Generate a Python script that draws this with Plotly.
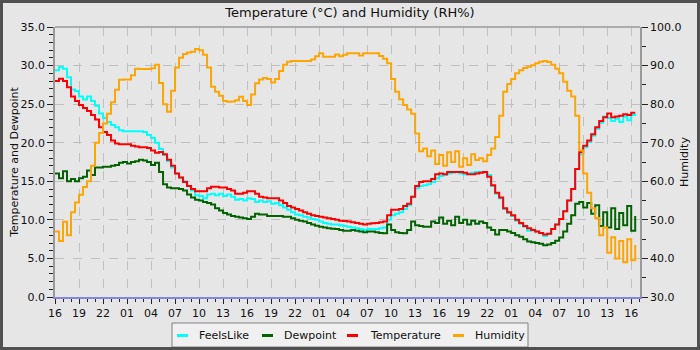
import pandas as pd
import plotly.graph_objects as go

# ---------------- data (half-hourly readings, starting 16:00) ----------------
start_time = "2024-05-01 16:00"
n_points = 146
times = pd.date_range(start_time, periods=n_points, freq="30min")

feels_like = [
    29.4, 29.8, 29.6, 28.5, 26.9, 26.7, 26.0, 25.6, 26.0, 25.4, 24.8, 23.8,
    23.2, 22.7, 22.3, 22.0, 21.6, 21.5, 21.5, 21.5, 21.5, 21.5, 21.4, 21.0,
    20.6, 20.0, 19.2, 18.4, 17.6, 16.8, 16.0, 15.5, 15.0, 14.4, 13.8, 13.2,
    13.1, 12.8, 13.3, 13.4, 13.2, 13.4, 13.1, 13.3, 13.0, 12.6, 12.7, 12.5,
    12.8, 12.7, 12.3, 12.5, 12.3, 12.4, 12.1, 12.2, 11.9, 11.6, 11.3, 11.0,
    10.7, 10.6, 10.4, 10.3, 10.1, 10.0, 9.8, 9.6, 9.5, 9.4, 9.4, 9.3,
    9.2, 9.1, 9.0, 8.9, 8.8, 8.7, 8.8, 8.8, 8.8, 8.9, 9.0, 10.0,
    10.6, 10.8, 11.0, 11.4, 11.9, 13.0, 14.1, 14.4, 14.5, 14.6, 14.9, 15.4,
    15.7, 15.8, 16.0, 16.1, 16.2, 16.0, 15.9, 16.0, 16.1, 16.2, 16.2, 16.2,
    15.8, 14.4, 13.4, 12.8, 11.4, 10.9, 10.5, 9.9, 9.5, 9.1, 8.6, 8.7,
    8.5, 8.3, 7.9, 8.2, 8.8, 9.4, 10.1, 11.1, 12.5, 14.0, 16.6, 18.5,
    19.4, 20.1, 20.9, 21.8, 22.6, 23.4, 23.2, 22.8, 23.1, 22.7, 23.4, 22.9,
    23.6, 23.8,
]

dewpoint = [
    16.0, 15.4, 16.3, 15.0, 15.3, 15.0, 15.4, 15.6, 16.4, 15.8, 16.8, 16.8,
    16.9, 16.9, 17.0, 17.1, 17.4, 17.5, 17.3, 17.5, 17.6, 17.8, 17.7, 17.5,
    17.1, 17.4, 16.2, 14.6, 14.2, 14.1, 14.1, 14.0, 13.8, 13.3, 12.9, 12.6,
    12.5, 12.3, 12.2, 12.0, 11.5, 11.2, 10.9, 10.7, 10.5, 10.4, 10.3, 10.2,
    10.1, 10.4, 10.8, 10.7, 10.7, 10.5, 10.5, 10.5, 10.5, 10.4, 10.4, 10.2,
    10.0, 9.9, 9.8, 9.6, 9.4, 9.25, 9.1, 9.0, 8.9, 8.85, 8.8, 8.7,
    8.6, 8.6, 8.7, 8.6, 8.5, 8.4, 8.5, 8.5, 8.4, 8.3, 8.25, 9.4,
    8.7, 8.4, 8.3, 8.25, 8.7, 9.8, 9.3, 9.2, 9.1, 9.1, 9.8, 9.6,
    10.3, 9.5, 9.9, 9.3, 10.4, 9.6, 10.0, 9.4, 9.9, 9.5, 9.8, 9.6,
    9.0, 8.7, 8.1, 8.7, 8.7, 8.5, 8.3, 8.0, 7.8, 7.5, 7.2, 7.1,
    7.0, 6.9, 6.7, 6.8, 7.0, 7.3, 7.7, 8.5, 9.5, 10.6, 12.1, 12.3,
    11.6, 12.2, 10.8, 11.9, 9.2, 11.0, 9.0, 11.5, 8.8, 10.9, 9.3, 11.8,
    8.6, 10.5,
]

temperature = [
    28.0, 28.3, 28.0, 27.2, 26.0, 25.4, 24.9, 24.5, 24.1, 23.6, 23.0, 22.0,
    21.4, 21.0, 20.3, 19.9, 19.8, 19.8, 19.8, 19.6, 19.5, 19.4, 19.4, 19.3,
    19.0, 18.7, 18.8, 18.5, 17.8, 17.0, 16.0, 15.5, 14.9, 14.4, 14.0, 13.7,
    13.7, 13.7, 14.1, 14.3, 14.3, 14.2, 14.2, 14.0, 13.8, 13.4, 13.4, 13.5,
    13.7, 13.7, 13.4, 13.0, 12.9, 12.8, 12.8, 12.8, 12.5, 12.2, 11.8, 11.6,
    11.4, 11.2, 11.0, 10.8, 10.6, 10.5, 10.4, 10.3, 10.2, 10.1, 10.0, 9.9,
    9.85, 9.8, 9.7, 9.6, 9.5, 9.4, 9.5, 9.55, 9.6, 9.7, 9.8, 10.6,
    11.3, 11.3, 11.4, 11.8, 12.1, 13.0, 14.4, 14.9, 15.0, 15.0, 15.3, 15.9,
    16.0, 15.9, 16.2, 16.2, 16.2, 16.2, 16.1, 15.9, 15.9, 16.0, 16.1, 16.2,
    15.6, 14.5, 13.5, 12.9, 11.5, 11.0, 10.6, 10.0, 9.6, 9.2, 8.9, 8.7,
    8.5, 8.3, 8.1, 8.2, 8.8, 9.4, 10.1, 11.1, 12.5, 14.0, 16.6, 18.8,
    19.6, 20.3, 21.1, 22.0, 22.8, 23.3, 23.8, 23.3, 23.4, 23.5, 23.7, 23.6,
    23.9, 23.9,
]

humidity = [
    47.0, 44.5, 49.5, 46.0, 52.0, 54.5, 56.5, 58.5, 60.0, 64.0, 70.0, 72.5,
    75.0, 77.5, 80.5, 83.7, 86.3, 86.4, 86.4, 87.5, 89.2, 89.1, 89.1, 89.1,
    89.3, 90.2, 85.5, 80.0, 78.0, 83.5, 89.5, 92.0, 93.0, 93.4, 93.6, 94.3,
    94.0, 92.8, 89.5, 84.5, 83.2, 82.2, 80.8, 80.6, 80.7, 81.0, 81.9, 80.8,
    79.8, 82.5, 85.4, 86.4, 86.8, 86.5, 85.6, 86.5, 88.6, 90.2, 91.0, 91.2,
    91.2, 91.2, 91.2, 91.2, 91.6, 92.4, 93.2, 92.3, 92.3, 92.3, 92.9, 92.4,
    92.8, 93.2, 93.2, 93.2, 92.6, 93.2, 93.2, 93.2, 93.2, 92.5, 91.8, 90.6,
    86.5, 83.2, 81.3, 79.8, 78.6, 77.5, 72.4, 67.8, 68.5, 66.5, 68.0, 64.5,
    66.8, 64.0, 67.5, 65.0, 67.8, 63.8, 66.0, 64.2, 67.0, 65.5, 66.0, 65.2,
    66.8, 68.5, 71.5, 77.0, 83.2, 85.2, 86.5, 88.0, 88.8, 89.4, 89.7, 90.1,
    90.6, 91.0, 91.2, 90.9, 90.2, 89.2, 88.0, 85.8, 83.5, 82.0, 77.0, 68.0,
    62.0, 57.0, 53.0, 50.5, 46.0, 48.0, 41.5, 45.5, 40.0, 44.5, 39.0, 45.0,
    39.5, 43.5,
]

series_names = ["FeelsLike", "Dewpoint", "Temperature", "Humidity"]
series_colors = ["#00ffff", "#006400", "#ff0000", "#ffa500"]

x_range = ["2024-05-01 16:00", "2024-05-04 17:06"]
left_range = [0, 35]
right_range = [30, 100]

# ---------------- figure ----------------
W, H = 700, 350
ML, MR, MT, MB = 55, 60, 27, 53
PW, PH = W - ML - MR, H - MT - MB
BG = "#e6e6e6"
FONT = "DejaVu Sans"


def px_to_paper_x(px):
    return (px - ML) / PW


def px_to_paper_y(py):
    return (H - MB - py) / PH


fig = go.Figure()
values = {"FeelsLike": feels_like, "Dewpoint": dewpoint,
          "Temperature": temperature, "Humidity": humidity}
for name, color in zip(series_names, series_colors):
    fig.add_trace(go.Scatter(
        x=times, y=values[name], name=name, mode="lines",
        line=dict(color=color, width=2, shape="hv"),
        yaxis="y2" if name == "Humidity" else "y",
        showlegend=False,
    ))

fig.update_layout(
    width=W, height=H,
    margin=dict(l=ML, r=MR, t=MT, b=MB, pad=0),
    paper_bgcolor=BG, plot_bgcolor=BG,
    font=dict(family=FONT, size=11, color="#111111"),
    title=dict(text="Temperature (°C) and Humidity (RH%)", x=0.5, xanchor="center",
               y=1 - 12 / H, yanchor="middle", yref="container",
               font=dict(family=FONT, size=13, color="#111111")),
    showlegend=False,
    xaxis=dict(
        type="date", range=x_range, tickformat="%H",
        tick0="2024-05-01 16:00", dtick=3 * 3600000,
        ticks="outside", ticklen=5, tickcolor="#222222", tickwidth=1,
        showline=True, linecolor="#8484e4", linewidth=2,
        showgrid=True, gridcolor="#c0c0c0", griddash="dash", gridwidth=1,
        minor=dict(dtick=3600000, tick0="2024-05-01 16:00", ticks="outside",
                   ticklen=3, tickcolor="#222222", showgrid=False),
        zeroline=False, automargin=False,
        tickfont=dict(family=FONT, size=11, color="#111111"),
    ),
    yaxis=dict(
        range=left_range, dtick=5, tick0=0, tickformat=".1f",
        ticks="outside", ticklen=6, tickcolor="#222222",
        showline=True, linecolor="#999999", linewidth=1.5,
        showgrid=True, gridcolor="#c0c0c0", griddash="dash", gridwidth=1,
        minor=dict(dtick=1, ticks="outside", ticklen=4, tickcolor="#222222", showgrid=False),
        zeroline=False, automargin=False,
        title=dict(text="Temperature and Dewpoint", standoff=0,
                   font=dict(family=FONT, size=11, color="#111111")),
    ),
    yaxis2=dict(
        range=right_range, dtick=10, tick0=30, tickformat=".1f",
        overlaying="y", side="right",
        ticks="outside", ticklen=6, tickcolor="#222222",
        showline=True, linecolor="#999999", linewidth=1.5,
        showgrid=False,
        minor=dict(dtick=5, ticks="outside", ticklen=4, tickcolor="#222222", showgrid=False),
        zeroline=False, automargin=False,
        title=dict(text="Humidity", standoff=0,
                   font=dict(family=FONT, size=11, color="#111111")),
    ),
)

shapes = []
# top border of plot area
shapes.append(dict(type="line", xref="paper", yref="paper", x0=0, x1=1, y0=1, y1=1,
                   line=dict(color="#999999", width=1.5)))
# outer frame of the image
shapes.append(dict(type="rect", xref="paper", yref="paper",
                   x0=px_to_paper_x(1.5), x1=px_to_paper_x(W - 1.5),
                   y0=px_to_paper_y(H - 1.5), y1=px_to_paper_y(1.5),
                   line=dict(color="#505050", width=3), fillcolor="rgba(0,0,0,0)"))
# legend box
shapes.append(dict(type="rect", xref="paper", yref="paper",
                   x0=px_to_paper_x(172), x1=px_to_paper_x(528),
                   y0=px_to_paper_y(347), y1=px_to_paper_y(323),
                   line=dict(color="#808080", width=1), fillcolor="#f0f0f0", layer="below"))

annotations = []
legend_sym_x = [177, 262, 347, 453]
legend_txt_x = [197, 282, 368, 473]
legend_y = 335.5
for name, color, sx, tx in zip(series_names, series_colors, legend_sym_x, legend_txt_x):
    shapes.append(dict(type="line", xref="paper", yref="paper",
                       x0=px_to_paper_x(sx), x1=px_to_paper_x(sx + 11),
                       y0=px_to_paper_y(legend_y), y1=px_to_paper_y(legend_y),
                       line=dict(color=color, width=3)))
    annotations.append(dict(text=name, xref="paper", yref="paper",
                            x=px_to_paper_x(tx), y=px_to_paper_y(legend_y),
                            xanchor="left", yanchor="middle", showarrow=False,
                            font=dict(family=FONT, size=11, color="#111111")))

fig.update_layout(shapes=shapes, annotations=annotations)

fig.write_html("out.html")
